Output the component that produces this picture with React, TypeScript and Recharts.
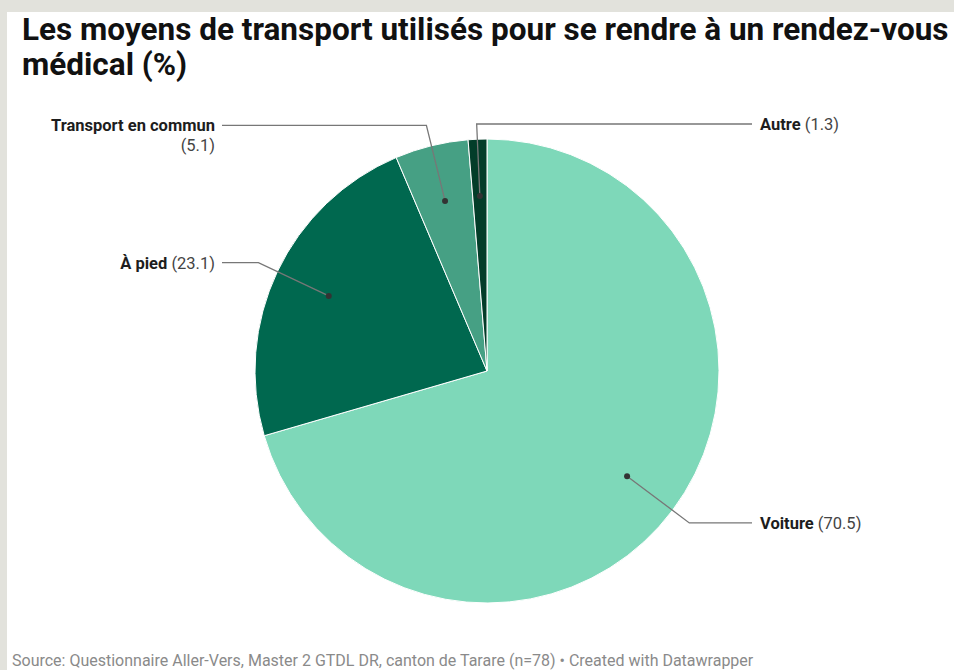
import React from 'react';
import { PieChart, Pie, Cell } from 'recharts';

const categories = ['Voiture', 'À pied', 'Transport en commun', 'Autre'];
const shares = [70.5, 23.1, 5.1, 1.3];
const colors = ['#7ed8b9', '#00684f', '#46a084', '#033d29'];

const data = categories.map((name, i) => ({ name, value: shares[i] }));

const RAD = Math.PI / 180;
const FONT = 'Roboto, "Noto Sans", sans-serif';

// leader line + label, placed from the slice's mid angle
const renderLabel = (props: any) => {
  const { cx, cy, outerRadius, midAngle, name, value } = props;
  const cos = Math.cos(-midAngle * RAD);
  const sin = Math.sin(-midAngle * RAD);
  const dotR = outerRadius * 0.755;
  const dx = cx + dotR * cos;
  const dy = cy + dotR * sin;
  const ex = cx + (outerRadius + 21) * cos;
  // labels above the pie share one row
  const ey = Math.max(cy + (outerRadius + 21) * sin, cy - outerRadius - 15);
  // near-vertical slices go to the right, like Datawrapper does
  const right = cos >= -0.1;
  const hx = right ? cx + outerRadius + 33 : cx - outerRadius - 33;
  const tx = right ? cx + outerRadius + 41 : cx - outerRadius - 40;
  const twoLines = name.length > 12;
  return (
    <g key={name}>
      <polyline
        points={`${dx},${dy} ${ex},${ey} ${hx},${ey}`}
        fill="none"
        stroke="#777"
        strokeWidth={1.3}
      />
      <circle cx={dx} cy={dy} r={3} fill="#333" />
      {twoLines ? (
        <text x={tx} y={ey + 6} textAnchor={right ? 'start' : 'end'} fontFamily={FONT} fontSize={16.5}>
          <tspan fontWeight={700} fill="#1d1d1d">{name}</tspan>
          <tspan x={tx} dy={20} fill="#444">({value})</tspan>
        </text>
      ) : (
        <text x={tx} y={ey + 6} textAnchor={right ? 'start' : 'end'} fontFamily={FONT} fontSize={16.5}>
          <tspan fontWeight={700} fill="#1d1d1d">{name}</tspan>
          <tspan fill="#444"> ({value})</tspan>
        </text>
      )}
    </g>
  );
};

export default function App() {
  return (
    <div style={{ position: 'fixed', left: 0, top: 0, width: 954, height: 670, background: '#e2e2dc', overflow: 'hidden' }}>
      <div style={{ position: 'absolute', left: 7, top: 12, width: 947, height: 658, background: '#fff' }} />
      <div
        style={{
          position: 'absolute',
          left: 22,
          top: 12,
          width: 930,
          fontFamily: FONT,
          fontWeight: 700,
          fontSize: 31.5,
          lineHeight: '35px',
          color: '#111',
        }}
      >
        Les moyens de transport utilisés pour se rendre à un rendez-vous médical (%)
      </div>
      <div style={{ position: 'absolute', left: 0, top: 0 }}>
        <PieChart width={954} height={670} margin={{ top: 0, right: 0, bottom: 0, left: 0 }}>
          <Pie
            data={data}
            dataKey="value"
            nameKey="name"
            cx={487}
            cy={371}
            outerRadius={232}
            startAngle={90}
            endAngle={-270}
            stroke="#fff"
            strokeWidth={1}
            label={renderLabel}
            labelLine={false}
            isAnimationActive={false}
          >
            {data.map((d, i) => (
              <Cell key={d.name} fill={colors[i]} />
            ))}
          </Pie>
        </PieChart>
      </div>
      <div
        style={{
          position: 'absolute',
          left: 12,
          top: 651,
          fontFamily: FONT,
          fontSize: 16,
          lineHeight: '19px',
          color: '#8a8a8a',
          whiteSpace: 'nowrap',
        }}
      >
        Source: Questionnaire Aller-Vers, Master 2 GTDL DR, canton de Tarare (n=78) • Created with Datawrapper
      </div>
    </div>
  );
}
